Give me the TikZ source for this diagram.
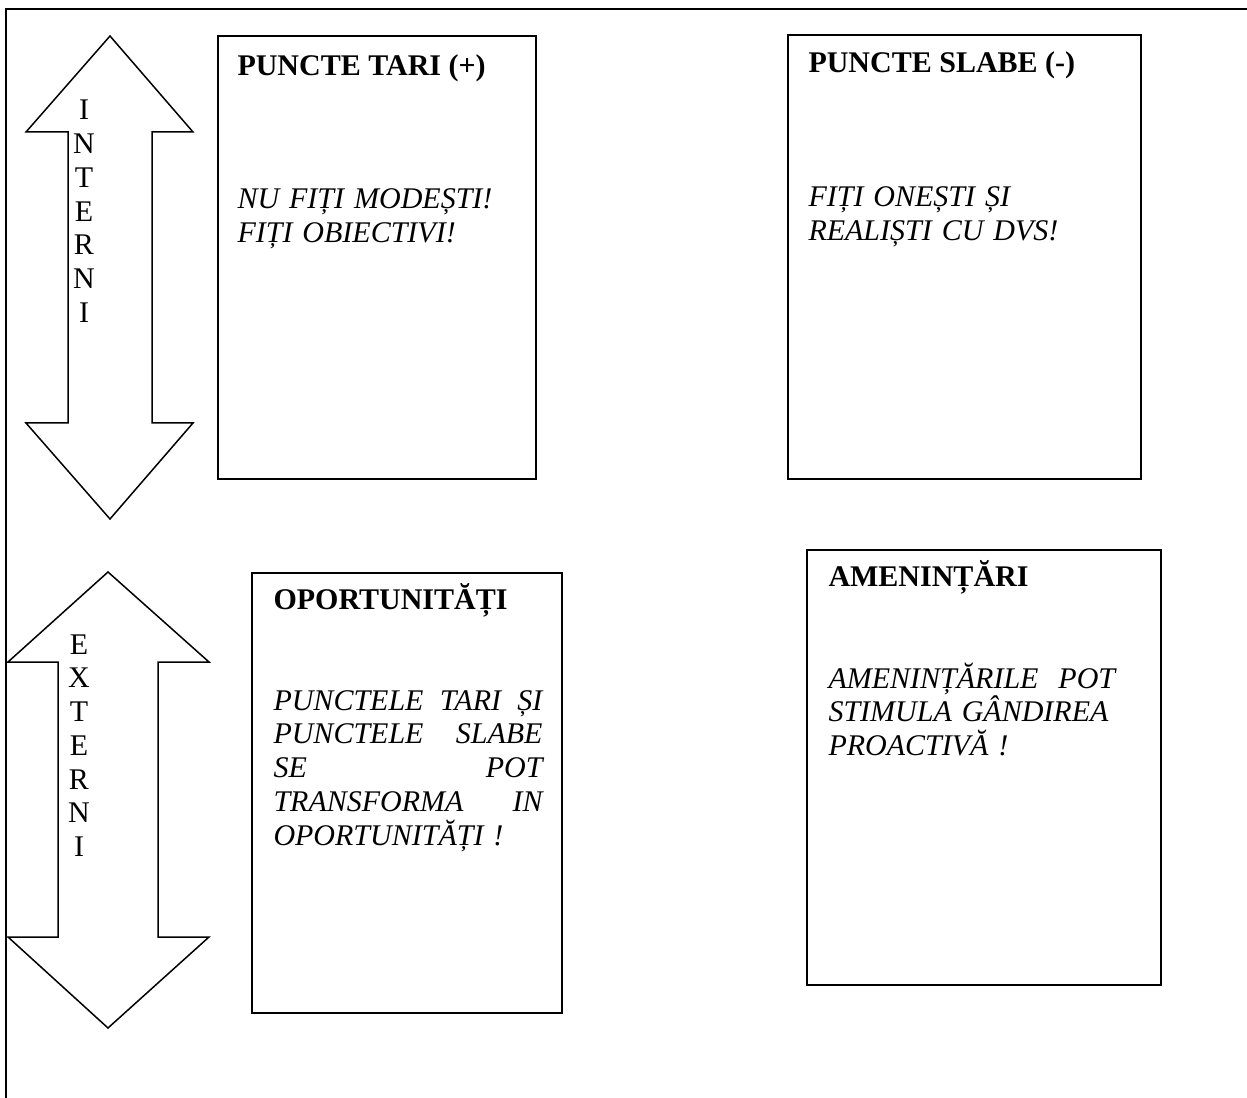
\documentclass[tikz,border=0pt]{standalone}
\usepackage{fontspec}
\setmainfont{Liberation Serif}
\usetikzlibrary{positioning}
\definecolor{linecolor}{RGB}{0, 0, 0}
\definecolor{textcolor}{RGB}{0, 0, 0}

\begin{document}
\begin{tikzpicture}[
    x=0.4pt, y=-0.4pt,
    % Stiluri
    swotbox/.style={
        rectangle,
        draw=linecolor,
        line width=0.8pt,
        inner sep=0pt,
        anchor=north west
    },
    titletext/.style={
        font=\fontsize{12}{13.5}\selectfont\bfseries,
        text=textcolor,
        inner sep=0pt,
        anchor=base west
    },
    bodytext/.style={
        font=\fontsize{12}{13.5}\selectfont\itshape,
        text=textcolor,
        text width=120pt,
        align=left,
        inner sep=0pt,
        anchor=base west
    },
    arrowletters/.style={
        font=\fontsize{12}{13.5}\selectfont,
        text=textcolor,
        text width=20pt,
        align=center,
        inner sep=0pt,
        anchor=base
    },
    bigarrow/.style={draw=linecolor, line width=0.6pt},
    pageframe/.style={draw=linecolor, line width=0.8pt}
]
\useasboundingbox (0,0) rectangle (1247,1098);

% ============================================================================
% Chenarul paginii
% ============================================================================
\draw[pageframe] (1247,9) -- (6,9) -- (6,1098);

% ============================================================================
% Sageti duble: interni / externi
% ============================================================================
\draw[bigarrow] (110,36) -- (193,132) -- (152,132) -- (152,423) -- (193,423)
    -- (110,519) -- (26,423) -- (68,423) -- (68,132) -- (26,132) -- cycle;
\draw[bigarrow] (108,572) -- (209,662) -- (158,662) -- (158,937) -- (209,937)
    -- (108,1028) -- (8,937) -- (58,937) -- (58,662) -- (8,662) -- cycle;

\node[arrowletters] (interni) at (84,120) {I\\N\\T\\E\\R\\N\\I};
\node[arrowletters] (externi) at (79,654) {E\\X\\T\\E\\R\\N\\I};

% ============================================================================
% Casetele SWOT
% ============================================================================
\node[swotbox, minimum width=127.2pt, minimum height=177.2pt] (tari) at (217,35) {};
\node[swotbox, minimum width=141.2pt, minimum height=177.6pt] (slabe) at (787,34) {};
\node[swotbox, minimum width=124pt, minimum height=176pt] (oport) at (251,572) {};
\node[swotbox, minimum width=141.6pt, minimum height=174pt] (amen) at (806,549) {};

% ============================================================================
% Titluri
% ============================================================================
\node[titletext] (tari_t) at (237,76) {PUNCTE TARI (+)};
\node[titletext] (slabe_t) at (808,73) {PUNCTE SLABE (-)};
\node[titletext] (oport_t) at (273,609) {OPORTUNITĂȚI};
\node[titletext] (amen_t) at (828,586) {AMENINȚĂRI};

% ============================================================================
% Texte
% ============================================================================
\node[bodytext] (tari_b) at (237,209) {NU FIȚI MODEȘTI!\\FIȚI OBIECTIVI!};
\node[bodytext] (slabe_b) at (808,207) {FIȚI ONEȘTI ȘI\\REALIȘTI CU DVS!};
\node[bodytext, text width=107.6pt] (oport_b) at (273,710)
    {PUNCTELE\hfill TARI\hfill ȘI\\PUNCTELE\hfill SLABE\\SE\hfill POT\\TRANSFORMA\hfill IN\\OPORTUNITĂȚI !};
\node[bodytext] (amen_b) at (828,688) {AMENINȚĂRILE\ \ POT\\STIMULA GÂNDIREA\\PROACTIVĂ !};

\end{tikzpicture}
\end{document}
